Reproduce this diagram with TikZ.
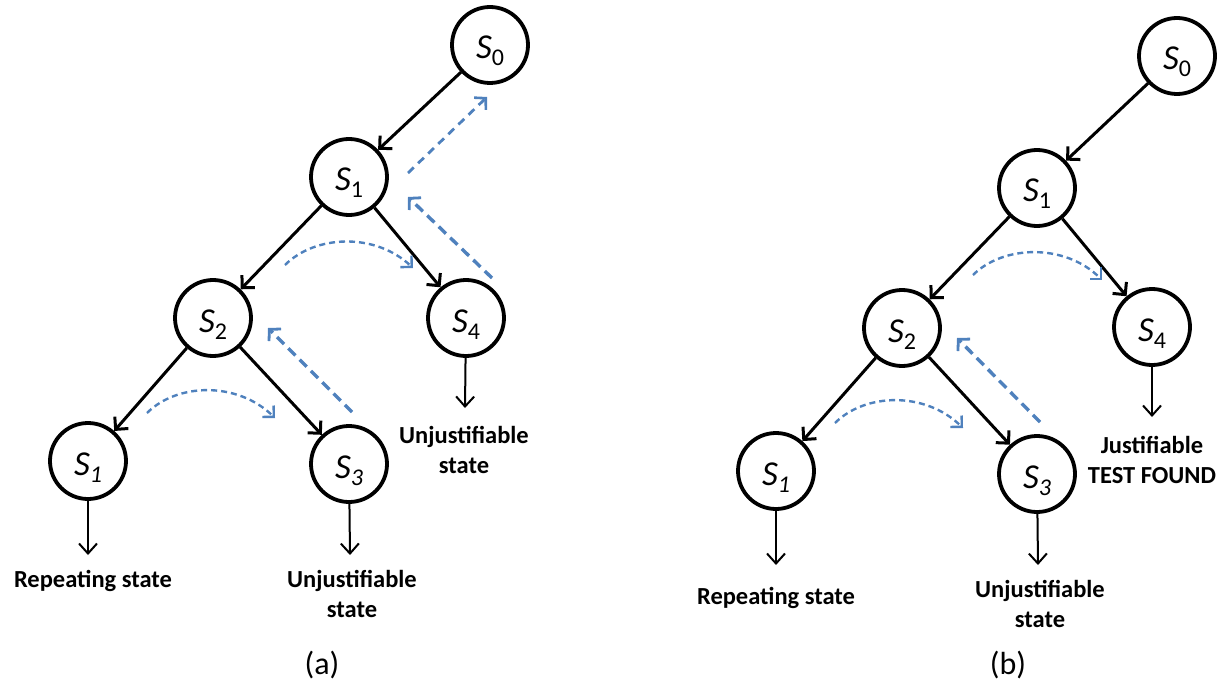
\documentclass[tikz,border=0pt]{standalone}
\usepackage{fontspec}
\setmainfont{Carlito}
\usetikzlibrary{arrows.meta}
\definecolor{dblue}{HTML}{4F81BD}
\begin{document}
\begin{tikzpicture}[x=1pt,y=-1pt,
  state/.style={circle,draw,line width=3.8pt,minimum size=76pt,inner sep=0pt,
    text height=28pt,text depth=0pt,font=\fontsize{35}{35}\selectfont},
  edge/.style={line width=3pt,-{Straight Barb[length=9pt,width=18pt]}},
  down/.style={line width=2pt,-{Straight Barb[length=10pt,width=18pt]}},
  lbl/.style={font=\fontsize{24.5}{30}\selectfont\bfseries,align=center,anchor=north,inner sep=0pt},
  captxt/.style={font=\fontsize{32}{32}\selectfont,inner sep=0pt},
  back/.style={dblue,line width=3.4pt,dash pattern=on 10pt off 6pt,-{Straight Barb[length=8pt,width=17pt,line width=2.8pt]}},
  back2/.style={dblue,line width=2.8pt,dash pattern=on 8pt off 6pt,-{Straight Barb[length=8pt,width=17pt,line width=2.6pt]}},
  side/.style={dblue,line width=2.4pt,dash pattern=on 6pt off 4pt,-{Straight Barb[length=8pt,width=16pt,line width=2.4pt]}}
]
\useasboundingbox (0,0) rectangle (1223,687);
\newcommand{\Sn}[1]{\textit{S}\raisebox{-7pt}{\fontsize{24}{24}\selectfont #1}}
\newcommand{\Si}[1]{\textit{S}\raisebox{-7pt}{\fontsize{24}{24}\selectfont\itshape #1}}

% ---------- (a) ----------
\node[state] (a0) at (490,45) {\Sn{0}};
\node[state] (a1) at (349,177) {\Sn{1}};
\node[state] (a2) at (213,318) {\Sn{2}};
\node[state] (a4) at (466,318) {\Sn{4}};
\node[state] (a1b) at (88,461) {\Si{1}};
\node[state] (a3) at (349,464) {\Si{3}};

\draw[edge] (a0) -- (a1);
\draw[edge] (a1) -- (a2);
\draw[edge] (a1) -- (a4);
\draw[edge] (a2) -- (a1b);
\draw[edge] (a2) -- (a3);

\coordinate (ea1b) at (88,555);
\coordinate (ea3) at (350,555);
\coordinate (ea4) at (465,408);
\draw[down] (a1b) -- (ea1b);
\draw[down] (a3) -- (ea3);
\draw[down] (a4) -- (ea4);

\node[lbl] (ta1b) at (93,570) {Repeating state};
\node[lbl] (ta3) at (352,570) {Unjustifiable\\state};
\node[lbl] (ta4) at (464,426) {Unjustifiable\\state};
\node[captxt] (capa) at (322,665) {(a)};

\coordinate (p1s) at (408,173); \coordinate (p1e) at (487,97);
\draw[back2] (p1s) -- (p1e);
\coordinate (p2s) at (492,278); \coordinate (p2e) at (408,197);
\draw[back] (p2s) -- (p2e);
\coordinate (p3s) at (352,412); \coordinate (p3e) at (268,328);
\draw[back] (p3s) -- (p3e);
\coordinate (c1s) at (285,265); \coordinate (c1e) at (413,268);
\draw[side] (c1s) .. controls (315,235) and (375,232) .. (c1e);
\coordinate (c2s) at (147,413); \coordinate (c2e) at (275,418);
\draw[side] (c2s) .. controls (177,383) and (237,381) .. (c2e);

% ---------- (b) ----------
\node[state] (b0) at (1177,56) {\Sn{0}};
\node[state] (b1) at (1037,188) {\Sn{1}};
\node[state] (b2) at (902,328) {\Sn{2}};
\node[state] (b4) at (1152,327) {\Sn{4}};
\node[state] (b1b) at (776,471) {\Si{1}};
\node[state] (b3) at (1037,474) {\Si{3}};

\draw[edge] (b0) -- (b1);
\draw[edge] (b1) -- (b2);
\draw[edge] (b1) -- (b4);
\draw[edge] (b2) -- (b1b);
\draw[edge] (b2) -- (b3);

\coordinate (eb1b) at (776,565);
\coordinate (eb3) at (1038,565);
\coordinate (eb4) at (1152,417);
\draw[down] (b1b) -- (eb1b);
\draw[down] (b3) -- (eb3);
\draw[down] (b4) -- (eb4);

\node[lbl] (tb1b) at (776,587) {Repeating state};
\node[lbl] (tb3) at (1040,580) {Unjustifiable\\state};
\node[lbl] (tb4) at (1152,436) {Justifiable\\TEST FOUND};
\node[captxt] (capb) at (1008,665) {(b)};

\coordinate (q3s) at (1040,422); \coordinate (q3e) at (957,338);
\draw[back] (q3s) -- (q3e);
\coordinate (c3s) at (973,275); \coordinate (c3e) at (1102,280);
\draw[side] (c3s) .. controls (1003,245) and (1065,243) .. (c3e);
\coordinate (c4s) at (835,423); \coordinate (c4e) at (963,428);
\draw[side] (c4s) .. controls (865,393) and (925,391) .. (c4e);
\end{tikzpicture}
\end{document}
